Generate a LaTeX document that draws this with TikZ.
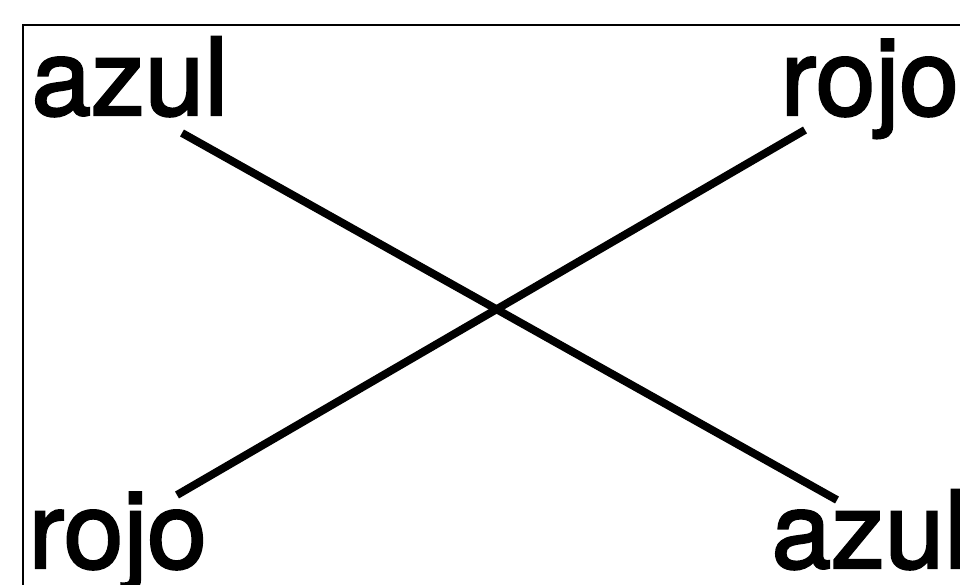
\documentclass[tikz,border=0pt]{standalone}
\usepackage{fontspec}
\setmainfont{TeX Gyre Heros}
\newfontfamily\heavyfont{TeX Gyre Heros}[RawFeature={embolden=2.2}]
\usetikzlibrary{positioning}
\tikzset{
  every picture/.style={line width=0.7pt},
  sword/.style={inner sep=0pt, font=\heavyfont\fontsize{61}{61}\selectfont},
  scross/.style={line width=4.5pt},
  sframe/.style={line width=1.6pt},
}

\begin{document}
\begin{tikzpicture}
\useasboundingbox (0,0) rectangle (19.2,11.68);
\clip (0,0) rectangle (19.2,11.68);
\draw[sframe] (0.46,-1) -- (0.46,11.18) -- (20,11.18);
% the four words
\node[sword, anchor=base west] (azulA) at (0.62,9.38) {azul};
\node[sword, anchor=base west] (rojoA) at (15.6,9.38) {rojo};
\node[sword, anchor=base west] (rojoB) at (0.56,0.32) {rojo};
\node[sword, anchor=base west] (azulB) at (15.42,0.32) {azul};
% line ends
\coordinate (azulAend) at (3.64,9.02);
\coordinate (azulBend) at (16.74,1.68);
\coordinate (rojoBend) at (3.54,1.78);
\coordinate (rojoAend) at (16.10,9.08);
\draw[scross] (azulAend) -- (azulBend);
\draw[scross] (rojoBend) -- (rojoAend);
\end{tikzpicture}
\end{document}
